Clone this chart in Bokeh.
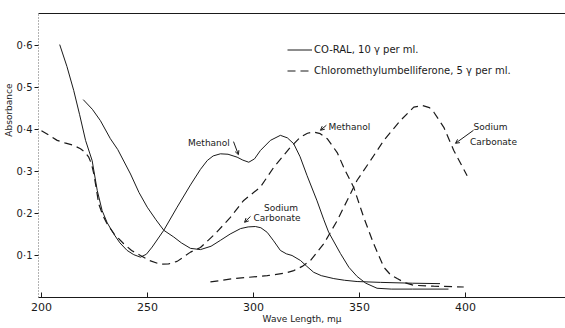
from bokeh.plotting import figure
from bokeh.models import (Range1d, FixedTicker, Legend, LegendItem, Title, Arrow,
                          OpenHead, LinearAxis, ColumnDataSource)
from bokeh.embed import file_html
from bokeh.resources import INLINE
from bokeh.core.properties import value

# ---- data ----
coral_meoh_x = [208.6, 212, 215.2, 218, 220.8, 223.9, 226.3, 228.6, 231, 234, 237, 240.4, 243.5,
                246.7, 249.5, 252.2, 257.7, 264, 270.3, 275, 278.2, 281, 284.4, 288, 292.3, 295,
                297.8, 300.5, 303.3, 308, 312.7, 316, 319, 322, 325.3, 330, 333.2, 335.5, 341,
                345, 348.9, 353, 358.3, 365, 375, 392]
coral_meoh_y = [0.602, 0.55, 0.493, 0.435, 0.374, 0.326, 0.255, 0.207, 0.178, 0.152, 0.13, 0.112,
                0.102, 0.096, 0.103, 0.12, 0.16, 0.215, 0.268, 0.305, 0.326, 0.337, 0.342, 0.341,
                0.334, 0.327, 0.322, 0.33, 0.35, 0.374, 0.386, 0.38, 0.366, 0.335, 0.29, 0.23,
                0.185, 0.155, 0.105, 0.072, 0.05, 0.034, 0.022, 0.02, 0.02, 0.02]

coral_na_x = [219.7, 224, 227.8, 232.5, 236, 242, 246, 249.9, 254, 257.7, 262.4, 266, 270.3, 275,
              280, 284.4, 289, 293.9, 297.5, 300.9, 303.5, 306.5, 309.5, 312.7, 315.5, 318.2,
              322.2, 325, 328.4, 332, 337.9, 343, 348.9, 360, 375, 388]
coral_na_y = [0.471, 0.448, 0.421, 0.378, 0.352, 0.294, 0.25, 0.215, 0.185, 0.16, 0.144, 0.13,
              0.117, 0.114, 0.122, 0.136, 0.151, 0.164, 0.168, 0.169, 0.166, 0.155, 0.135, 0.112,
              0.104, 0.1, 0.088, 0.075, 0.06, 0.052, 0.045, 0.041, 0.038, 0.036, 0.034, 0.033]

cmu_meoh_x = [200, 204, 207.4, 211, 215.2, 218.4, 220.5, 222.3, 223.6, 224.7, 226, 227, 229, 231,
              234.5, 238.8, 242.5, 246.7, 251, 256.1, 260, 264, 270.3, 275, 282, 289, 295.4,
              303.3, 309.6, 317.5, 322.2, 325.5, 328.4, 331.5, 334.8, 339.5, 343, 347.3, 352,
              356.7, 361.5, 364.5, 367.8, 371.5, 375.6, 385, 399.2]
cmu_meoh_y = [0.397, 0.385, 0.374, 0.368, 0.362, 0.354, 0.346, 0.334, 0.318, 0.294, 0.255, 0.223,
              0.195, 0.175, 0.15, 0.128, 0.112, 0.1, 0.088, 0.079, 0.08, 0.086, 0.108, 0.119,
              0.152, 0.19, 0.231, 0.263, 0.31, 0.358, 0.382, 0.391, 0.394, 0.39, 0.378, 0.345,
              0.305, 0.262, 0.191, 0.128, 0.072, 0.055, 0.045, 0.035, 0.029, 0.027, 0.025]

cmu_na_x = [279.7, 290.7, 306.5, 315, 319, 323, 326.9, 333.2, 339.5, 344.2, 348.9, 355.2, 361.5,
            369.3, 375.6, 379.6, 383, 385.1, 389.8, 394.5, 400.8]
cmu_na_y = [0.037, 0.045, 0.052, 0.058, 0.064, 0.074, 0.088, 0.128, 0.183, 0.231, 0.279, 0.326,
            0.374, 0.421, 0.453, 0.457, 0.452, 0.441, 0.405, 0.35, 0.29]

x_ticks = [200, 250, 300, 350, 400]
y_ticks = [0.1, 0.2, 0.3, 0.4, 0.5, 0.6]
y_tick_labels = ["0·1", "0·2", "0·3", "0·4", "0·5", "0·6"]

series_labels = ["CO-RAL, 10 γ per ml.", "Chloromethylumbelliferone, 5 γ per ml."]

ann_text = ["Methanol", "Methanol", "Sodium", "Carbonate", "Sodium", "Carbonate"]
ann_x = [279.0, 335.4, 411.8, 413.2, 313.0, 311.1]
ann_y = [0.367, 0.405, 0.405, 0.371, 0.212, 0.190]
ann_align = ["center", "left", "center", "center", "center", "center"]

arrow_x0 = [290.6, 334.4, 403.8, 298.6]
arrow_y0 = [0.371, 0.410, 0.398, 0.193]
arrow_x1 = [292.9, 331.6, 395.3, 295.8]
arrow_y1 = [0.340, 0.398, 0.367, 0.179]

FONT = "DejaVu Sans"
INK = "#1a1a1a"

p = figure(width=565, height=328, output_backend="svg", toolbar_location=None,
           x_range=Range1d(198.6, 447.2), y_range=Range1d(0, 0.676),
           min_border_left=38, min_border_right=0, min_border_top=13, min_border_bottom=31,
           outline_line_color=None, background_fill_color="white", border_fill_color="white")
p.grid.visible = False

# x axis
xa = p.xaxis[0]
xa.ticker = FixedTicker(ticks=x_ticks)
xa.major_tick_in = 5
xa.major_tick_out = 0
xa.minor_tick_line_color = None
xa.axis_line_color = INK
xa.axis_line_width = 1.2
xa.major_tick_line_color = INK
xa.major_label_text_font = FONT
xa.major_label_text_font_size = "11px"
xa.major_label_text_color = INK
xa.major_label_standoff = 5
xa.axis_label = "Wave Length, mμ"
xa.axis_label_text_font = FONT
xa.axis_label_text_font_size = "9px"
xa.axis_label_text_font_style = "normal"
xa.axis_label_text_color = INK
xa.axis_label_standoff = 0

# y axis
ya = p.yaxis[0]
ya.ticker = FixedTicker(ticks=y_ticks)
ya.major_label_overrides = dict(zip(y_ticks, y_tick_labels))
ya.major_tick_in = 0
ya.major_tick_out = 4
ya.minor_tick_line_color = None
ya.axis_line_color = "#666666"
ya.axis_line_dash = "1 2"
ya.major_tick_line_color = INK
ya.major_label_text_font = FONT
ya.major_label_text_font_size = "10px"
ya.major_label_text_color = INK
ya.major_label_standoff = 2

# vertical axis title, placed in the upper part like the reference
p.add_layout(Title(text="Absorbance", align="right", offset=70, standoff=0,
                   text_font=FONT, text_font_size="9px", text_font_style="normal",
                   text_color=INK), "left")

# top frame line
top = LinearAxis(ticker=FixedTicker(ticks=[]), major_label_text_font_size="0px",
                 axis_line_color=INK, axis_line_width=1.2, major_tick_line_color=None,
                 minor_tick_line_color=None, major_label_standoff=0)
p.add_layout(top, "above")

# curves
r1 = p.line(coral_meoh_x, coral_meoh_y, line_color=INK, line_width=1)
r2 = p.line(coral_na_x, coral_na_y, line_color=INK, line_width=1)
r3 = p.line(cmu_meoh_x, cmu_meoh_y, line_color=INK, line_width=1.2, line_dash="8 5")
r4 = p.line(cmu_na_x, cmu_na_y, line_color=INK, line_width=1.2, line_dash="8 5")

# annotations
src = ColumnDataSource(dict(x=ann_x, y=ann_y, t=ann_text, a=ann_align))
p.text(x="x", y="y", text="t", text_align="a", source=src, text_baseline="middle",
       text_font=value(FONT), text_font_size="9px", text_color=INK)

for xs, ys, xe, ye in zip(arrow_x0, arrow_y0, arrow_x1, arrow_y1):
    p.add_layout(Arrow(end=OpenHead(size=4, line_width=1, line_color=INK),
                       x_start=xs, y_start=ys, x_end=xe, y_end=ye,
                       line_width=1, line_color=INK))

legend = Legend(items=[LegendItem(label=series_labels[0], renderers=[r1]),
                       LegendItem(label=series_labels[1], renderers=[r3])],
                location=(249, 216), glyph_width=25, glyph_height=21, label_height=21,
                spacing=0, padding=0, margin=0, label_standoff=2,
                border_line_color=None, background_fill_alpha=0,
                label_text_font=FONT, label_text_font_size="10px",
                label_text_color=INK)
p.add_layout(legend, "center")

open("out.html", "w").write(file_html(p, INLINE))
